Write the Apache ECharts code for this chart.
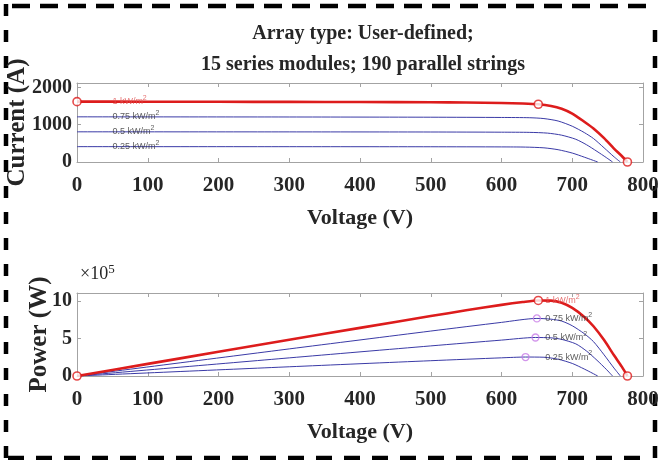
<!DOCTYPE html>
<html><head><meta charset="utf-8">
<script src="https://cdn.jsdelivr.net/npm/echarts@6/dist/echarts.min.js"></script>
<style>html,body{margin:0;padding:0;background:#fff}#c{width:660px;height:460px}</style>
</head><body><div id="c"></div>
<script>
// ---- data ----
const irradiance = ['1', '0.75', '0.5', '0.25']; // kW/m^2
const xTicks = [0, 100, 200, 300, 400, 500, 600, 700, 800];
const currentTicks = [0, 1000, 2000];
const powerTicks = [0, 500000, 1000000];

// I-V curves
const ivVoltage1000 = [0, 100, 200, 300, 400, 500, 550, 600, 630, 652, 670, 685, 700, 717, 730, 745, 759, 770, 778];
const ivCurrent1000 = [1620, 1618, 1616, 1613, 1610, 1603, 1597, 1585, 1570, 1550, 1505, 1430, 1300, 1081, 900, 640, 360, 160, 0];
const ivVoltage750 = [0, 300, 500, 600, 640, 660, 680, 700, 717, 730, 745, 759, 768];
const ivCurrent750 = [1212, 1208, 1202, 1195, 1188, 1165, 1100, 960, 790, 630, 380, 140, 0];
const ivVoltage500 = [0, 300, 500, 600, 640, 665, 685, 705, 720, 735, 748, 757];
const ivCurrent500 = [810, 808, 805, 800, 795, 775, 720, 610, 465, 285, 120, 0];
const ivVoltage250 = [0, 300, 500, 600, 634, 660, 680, 700, 717, 728, 736];
const ivCurrent250 = [412, 411, 409, 405, 400, 380, 330, 240, 130, 55, 0];

// P-V curves
const pvVoltage1000 = [0, 100, 200, 300, 400, 500, 550, 600, 630, 652, 670, 685, 700, 717, 730, 745, 759, 770, 778];
const pvPower1000 = [0, 161800, 323200, 483900, 644000, 801500, 878400, 951000, 989100, 1010600, 1008400, 980000, 910000, 790000, 665000, 480000, 277000, 125000, 0];
const pvVoltage750 = [0, 300, 500, 600, 650, 670, 685, 700, 717, 730, 745, 759, 768];
const pvPower750 = [0, 362400, 601000, 717000, 770000, 760000, 735000, 672000, 566000, 460000, 283000, 106000, 0];
const pvVoltage500 = [0, 300, 500, 600, 648, 670, 685, 705, 720, 735, 748, 757];
const pvPower500 = [0, 242400, 402500, 480000, 515200, 510000, 490000, 430000, 335000, 210000, 90000, 0];
const pvVoltage250 = [0, 300, 500, 600, 634, 660, 680, 700, 717, 728, 736];
const pvPower250 = [0, 123300, 204500, 243000, 253600, 250800, 224400, 168000, 93200, 40000, 0];

// markers
const ivMarkVoltage = [0, 652, 778];
const ivMarkCurrent = [1620, 1550, 0];
const pvMarkVoltage = [0, 652, 778];
const pvMarkPower = [0, 1010600, 0];
const mppVoltage = [650, 648, 634];
const mppPower = [770000, 515200, 253600];

// ---- build ----
const zip = (a, b) => a.map((v, i) => [v, b[i]]);
const ivSets = [[ivVoltage1000, ivCurrent1000], [ivVoltage750, ivCurrent750], [ivVoltage500, ivCurrent500], [ivVoltage250, ivCurrent250]];
const pvSets = [[pvVoltage1000, pvPower1000], [pvVoltage750, pvPower750], [pvVoltage500, pvPower500], [pvVoltage250, pvPower250]];

const SERIF = 'Liberation Serif';
const RED = '#dd1c1c';
const BLUE = '#3a3aa6';
const AXC = '#a3a3a3';
const TXT = '#262626';

function xAxis(grid, pos, main) {
  return {
    type: 'value', gridIndex: grid, position: pos, min: 0, max: 800, interval: 100,
    axisLine: { show: true, onZero: false, lineStyle: { color: AXC, width: 1 } },
    axisTick: { show: true, inside: true, length: 4, lineStyle: { color: AXC } },
    axisLabel: { show: main, margin: 13, fontFamily: SERIF, fontWeight: 'bold', fontSize: 21, color: TXT },
    splitLine: { show: false },
    name: main ? 'Voltage (V)' : '', nameLocation: 'middle', nameGap: 45, nameMoveOverlap: false,
    nameTextStyle: { fontFamily: SERIF, fontWeight: 'bold', fontSize: 22, color: TXT }
  };
}
function yAxis(grid, pos, main, max, ticks, name, nameGap, fmt) {
  return {
    type: 'value', gridIndex: grid, position: pos, min: 0, max: max,
    axisLine: { show: true, onZero: false, lineStyle: { color: AXC, width: 1 } },
    axisTick: { show: true, inside: true, length: 4, lineStyle: { color: AXC }, customValues: ticks },
    axisLabel: { show: main, margin: 5, fontFamily: SERIF, fontWeight: 'bold', fontSize: 20, color: TXT, customValues: ticks, formatter: fmt },
    splitLine: { show: false },
    name: main ? name : '', nameLocation: 'middle', nameGap: nameGap, nameMoveOverlap: false,
    nameTextStyle: { fontFamily: SERIF, fontWeight: 'bold', fontSize: 25, color: TXT }
  };
}

const series = [];
for (let k = 3; k >= 0; k--) {
  const red = k === 0;
  series.push({
    type: 'line', xAxisIndex: 0, yAxisIndex: 0, data: zip(ivSets[k][0], ivSets[k][1]),
    smooth: 0.25, showSymbol: false, z: red ? 5 : 3,
    lineStyle: { color: red ? RED : BLUE, width: red ? 2.6 : 1 }
  });
  series.push({
    type: 'line', xAxisIndex: 2, yAxisIndex: 2, data: zip(pvSets[k][0], pvSets[k][1]),
    smooth: 0.25, showSymbol: false, z: red ? 5 : 3,
    lineStyle: { color: red ? RED : BLUE, width: red ? 2.6 : 1 }
  });
}
const markerStyle = c => ({ color: '#fff', borderColor: c, borderWidth: 1.6 });
series.push({ type: 'scatter', xAxisIndex: 0, yAxisIndex: 0, data: zip(ivMarkVoltage, ivMarkCurrent), symbol: 'circle', symbolSize: 8, itemStyle: markerStyle(RED), z: 6 });
series.push({ type: 'scatter', xAxisIndex: 2, yAxisIndex: 2, data: zip(pvMarkVoltage, pvMarkPower), symbol: 'circle', symbolSize: 8, itemStyle: markerStyle(RED), z: 6 });
series.push({ type: 'scatter', xAxisIndex: 2, yAxisIndex: 2, data: zip(mppVoltage, mppPower), symbol: 'circle', symbolSize: 7, itemStyle: { color: 'rgba(0,0,0,0)', borderColor: '#c77ae6', borderWidth: 1.3 }, z: 6 });

const labelRich = {
  t: { fontFamily: 'Liberation Sans', fontSize: 9, color: '#333' },
  s: { fontFamily: 'Liberation Sans', fontSize: 7, color: '#333', verticalAlign: 'bottom', padding: [0, 0, 7, 0] },
  tr: { fontFamily: 'Liberation Sans', fontSize: 9, color: '#e05050' },
  sr: { fontFamily: 'Liberation Sans', fontSize: 7, color: '#e05050', verticalAlign: 'bottom', padding: [0, 0, 7, 0] }
};
const labelFmt = p => p.dataIndex === 0
  ? `{tr|${irradiance[p.dataIndex]} kW/m}{sr|2}`
  : `{t|${irradiance[p.dataIndex]} kW/m}{s|2}`;
const ivLabelV = 50;
const pvLabelV = 662;
series.push({
  type: 'scatter', xAxisIndex: 0, yAxisIndex: 0, symbolSize: 0, z: 7, silent: true,
  data: ivSets.map(s => [ivLabelV, s[1][0]]),
  label: { show: true, position: 'right', distance: 0, formatter: labelFmt, rich: labelRich }
});
series.push({
  type: 'scatter', xAxisIndex: 2, yAxisIndex: 2, symbolSize: 0, z: 7, silent: true,
  data: [pvMarkPower[1]].concat(mppPower).map(p => [pvLabelV, p]),
  label: { show: true, position: 'right', distance: 0, formatter: labelFmt, rich: labelRich }
});

const chart = echarts.init(document.getElementById('c'), null, { renderer: 'canvas' });
const dash = { stroke: '#000', lineWidth: 4.5 };
chart.setOption({
  animation: false,
  backgroundColor: '#fff',
  title: {
    text: 'Array type: User-defined;\n15 series modules; 190 parallel strings',
    left: 358, top: 13, textAlign: 'center',
    textStyle: { fontFamily: SERIF, fontWeight: 'bold', fontSize: 20, lineHeight: 31, color: TXT }
  },
  grid: [
    { left: 77, right: 17, top: 83, height: 79, containLabel: false, outerBoundsMode: 'none' },
    { left: 77, right: 17, top: 293, height: 83, containLabel: false, outerBoundsMode: 'none' }
  ],
  xAxis: [xAxis(0, 'bottom', true), xAxis(0, 'top', false), xAxis(1, 'bottom', true), xAxis(1, 'top', false)],
  yAxis: [
    yAxis(0, 'left', true, 2120, currentTicks, 'Current (A)', 47, v => String(v)),
    yAxis(0, 'right', false, 2120, currentTicks, '', 0),
    yAxis(1, 'left', true, 1110000, powerTicks, 'Power (W)', 25, v => String(v / 100000)),
    yAxis(1, 'right', false, 1110000, powerTicks, '', 0)
  ],
  series: series,
  graphic: [
    { type: 'text', left: 80, top: 263, style: { rich: { a: { fontFamily: SERIF, fontSize: 18, fill: TXT }, b: { fontFamily: SERIF, fontSize: 13, fill: TXT, verticalAlign: 'bottom', padding: [0, 0, 9, 0] } }, text: '{a|×10}{b|5}' } },
    { type: 'line', shape: { x1: 6, y1: 4, x2: 6, y2: 458 }, style: Object.assign({ lineDash: [12, 14] }, dash) },
    { type: 'line', shape: { x1: 12, y1: 6, x2: 652, y2: 6 }, style: Object.assign({ lineDash: [18, 10] }, dash) },
    { type: 'line', shape: { x1: 8, y1: 458, x2: 652, y2: 458 }, style: Object.assign({ lineDash: [16, 12] }, dash) },
    { type: 'line', shape: { x1: 655, y1: 30, x2: 655, y2: 458 }, style: Object.assign({ lineDash: [12, 14] }, dash) }
  ]
});
</script></body></html>
